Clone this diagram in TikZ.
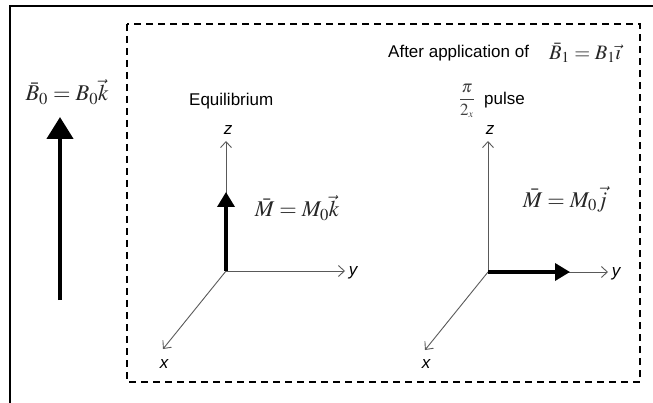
\documentclass[tikz,border=0pt]{standalone}
\usepackage{mathptmx}
\usepackage[no-math]{fontspec}
\setmainfont{Liberation Sans}
\usetikzlibrary{arrows.meta}
\begin{document}
\begin{tikzpicture}[x=1pt,y=-1pt,
  axisline/.style={draw=black!65, line width=0.9pt, -{Straight Barb[length=6pt,width=11pt]}},
  bigvec/.style={line width=4.5pt, -{Triangle[length=22pt,width=26pt]}},
  magvec/.style={line width=3.5pt, -{Triangle[length=15pt,width=17pt]}},
  axlabel/.style={font=\fontsize{17}{20}\selectfont\itshape, inner sep=0pt},
  txt/.style={font=\fontsize{17}{20}\selectfont, inner sep=0pt},
  eqlabel/.style={font=\fontsize{22.5}{26}\selectfont, inner sep=0pt, text=black!85},
  frame/.style={line width=1.5pt},
  dashbox/.style={line width=1.5pt, dash pattern=on 7pt off 5pt}]
\useasboundingbox (0,0) rectangle (653,403);
% outer frame
\draw[frame] (10,403) -- (10,6) -- (653,6);
% dashed box
\draw[dashbox] (127,24) rectangle (640,382);
% B0 field arrow
\coordinate (b0tail) at (60,300);
\coordinate (b0tip) at (60,117);
\draw[bigvec] (b0tail) -- (b0tip);
\node[eqlabel] (b0lab) at (67,92) {$\bar{B}_0 = B_0\vec{k}$};
% header
\node[txt, anchor=west] (after) at (388,53) {After application of};
\node[eqlabel, font=\fontsize{20.5}{24}\selectfont, anchor=west] (b1lab) at (549,53) {$\bar{B}_1 = B_1\vec{\imath}$};
% left system
\node[txt, anchor=west] (equil) at (189,101) {Equilibrium};
\coordinate (o1) at (226,271);
\coordinate (z1) at (226,141);
\coordinate (y1) at (345,271);
\coordinate (x1) at (163,349);
\draw[axisline] (o1) -- (z1);
\draw[axisline] (o1) -- (y1);
\draw[axisline] (o1) -- (x1);
\node[axlabel] (z1lab) at (228,130) {z};
\node[axlabel] (y1lab) at (353,273) {y};
\node[axlabel] (x1lab) at (164,364) {x};
\coordinate (m1tip) at (226,192);
\draw[magvec] (o1) -- (m1tip);
\node[eqlabel] (m1lab) at (297,208) {$\bar{M} = M_0\vec{k}$};
% right system
\node[txt, anchor=west] (pulse) at (484,100) {pulse};
\node[font=\fontsize{17}{20}\selectfont, inner sep=0pt, text=black!75] (frac) at (467,101) {$\displaystyle\frac{\pi}{2_{\scriptscriptstyle x}}$};
\coordinate (o2) at (488,272);
\coordinate (z2) at (488,141);
\coordinate (y2) at (608,272);
\coordinate (x2) at (425,350);
\draw[axisline] (o2) -- (z2);
\draw[axisline] (o2) -- (y2);
\draw[axisline] (o2) -- (x2);
\node[axlabel] (z2lab) at (490,130) {z};
\node[axlabel] (y2lab) at (616,274) {y};
\node[axlabel] (x2lab) at (426,364) {x};
\coordinate (m2tip) at (570,272);
\draw[magvec] (o2) -- (m2tip);
\node[eqlabel] (m2lab) at (565,199) {$\bar{M} = M_0\vec{j}$};
\end{tikzpicture}
\end{document}
